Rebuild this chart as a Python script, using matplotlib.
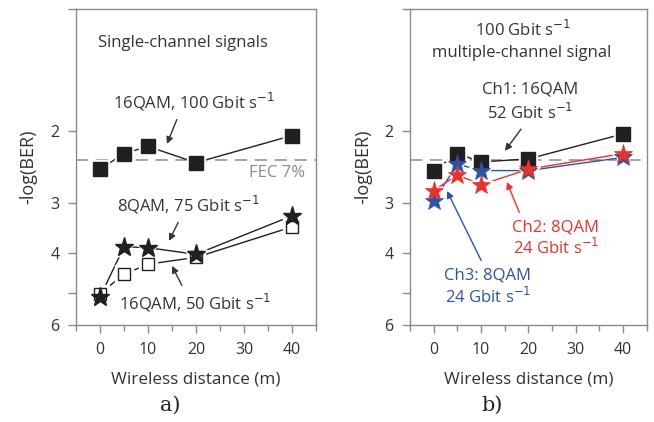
import matplotlib
matplotlib.use('Agg')
from matplotlib import pyplot as plt
from matplotlib.ticker import FixedLocator, NullFormatter, FixedFormatter

plt.rcParams['font.family'] = ['Open Sans', 'DejaVu Sans']

# wireless distance in metres
dist = [0, 5, 10, 20, 40]

# -log(BER), single-channel signals
qam16_100g = [2.48, 2.27, 2.18, 2.39, 2.05]
qam8_75g = [5.12, 3.85, 3.87, 4.02, 3.23]
qam16_50g = [5.02, 4.50, 4.25, 4.09, 3.44]

# -log(BER), multiple-channel signal
ch1 = [2.50, 2.27, 2.38, 2.34, 2.03]
ch2 = [2.80, 2.56, 2.71, 2.48, 2.27]
ch3 = [2.97, 2.41, 2.50, 2.50, 2.32]

fec_limit = 2.36

y_ticks = [1, 2, 3, 4, 5, 6]
y_labels = ['', '2', '3', '4', '', '6']
x_ticks = [0, 10, 20, 30, 40]

dark = '#231f20'
red = '#e8322b'
blue = '#2b53a6'
grey = '#8a8a8a'
text_c = '#333333'
note_fs = 12


def series(ax, y, marker, color, face, ms, mew=1.0):
    ax.plot(dist, y, '-', color=color, lw=1.0, zorder=2)
    # white halo so the line stops short of each marker
    ax.plot(dist, y, marker, ls='none', ms=ms + 4, mfc='white', mec='white', zorder=3)
    ax.plot(dist, y, marker, ls='none', ms=ms, mfc=face, mec=color, mew=mew, zorder=4)


def style_axes(ax):
    ax.set_yscale('log')
    ax.set_ylim(6, 1)
    ax.set_xlim(-5, 45)
    ax.yaxis.set_major_locator(FixedLocator(y_ticks))
    ax.yaxis.set_major_formatter(FixedFormatter(y_labels))
    ax.yaxis.set_minor_locator(FixedLocator([]))
    ax.yaxis.set_minor_formatter(NullFormatter())
    ax.xaxis.set_major_locator(FixedLocator(x_ticks))
    ax.xaxis.set_minor_locator(FixedLocator([-5, 5, 15, 25, 35, 45]))
    for s in ax.spines.values():
        s.set_color(grey)
        s.set_linewidth(1.0)
    ax.tick_params(which='major', direction='out', length=6, width=1.0, color=grey,
                   labelsize=11.5, labelcolor=text_c, pad=6)
    ax.tick_params(which='minor', direction='out', length=4, width=1.0, color=grey)
    ax.axhline(fec_limit, color=grey, lw=1.1, ls=(0, (8, 5)), zorder=1)
    ax.set_xlabel('Wireless distance (m)', fontsize=12.3, color=text_c, labelpad=10)
    ax.set_ylabel('-log(BER)', fontsize=13, color=text_c, labelpad=9)


def note(ax, text, pos, color=text_c, tip=None, relpos=(0.5, 0.5)):
    if tip is None:
        ax.text(*pos, text, transform=ax.transAxes, ha='center', va='center',
                fontsize=note_fs, color=color)
        return
    ax.annotate(text, xy=tip, xycoords='axes fraction', xytext=pos,
                textcoords='axes fraction', ha='center', va='center',
                fontsize=note_fs, color=color,
                arrowprops=dict(arrowstyle='-|>', color=color, lw=1.0,
                                mutation_scale=10, shrinkA=3, shrinkB=0,
                                relpos=relpos))


fig = plt.figure(figsize=(6.54, 4.22), dpi=100)
ax1 = fig.add_axes([0.1162, 0.2299, 0.3670, 0.7488])
ax2 = fig.add_axes([0.6270, 0.2299, 0.3620, 0.7488])

# a) single-channel signals
style_axes(ax1)
series(ax1, qam16_100g, 's', dark, dark, 9.5)
series(ax1, qam16_50g, 's', dark, 'white', 8.5)
series(ax1, qam8_75g, '*', dark, dark, 14)

note(ax1, 'Single-channel signals', (0.446, 0.892))
ax1.text(0.955, 0.481, 'FEC 7%', transform=ax1.transAxes, ha='right', va='center',
         fontsize=note_fs, color=grey)
note(ax1, r'16QAM, 100 Gbit s$^{-1}$', (0.492, 0.706), tip=(0.379, 0.573), relpos=(0.41, 0.0))
note(ax1, r'8QAM, 75 Gbit s$^{-1}$', (0.469, 0.380), tip=(0.3875, 0.266), relpos=(0.45, 0.0))
note(ax1, r'16QAM, 50 Gbit s$^{-1}$', (0.496, 0.0696), tip=(0.40, 0.187), relpos=(0.435, 1.0))

# b) multiple-channel signal
style_axes(ax2)
series(ax2, ch1, 's', dark, dark, 9.5)
series(ax2, ch3, '*', blue, blue, 14, mew=0.5)
series(ax2, ch2, '*', red, red, 14, mew=0.5)

note(ax2, r'100 Gbit s$^{-1}$', (0.4755, 0.9335))
note(ax2, 'multiple-channel signal', (0.4726, 0.861))
note(ax2, 'Ch1: 16QAM', (0.506, 0.744))
note(ax2, r'52 Gbit s$^{-1}$', (0.506, 0.671), tip=(0.401, 0.551), relpos=(0.45, 0.0))
note(ax2, 'Ch2: 8QAM', (0.616, 0.310), color=red, tip=(0.409, 0.4525), relpos=(0.11, 1.0))
note(ax2, r'24 Gbit s$^{-1}$', (0.616, 0.244), color=red)
note(ax2, 'Ch3: 8QAM', (0.325, 0.158), color=blue, tip=(0.156, 0.424), relpos=(0.47, 1.0))
note(ax2, r'24 Gbit s$^{-1}$', (0.33, 0.0886), color=blue)

fig.text(0.260, 0.040, 'a)', ha='center', va='center', fontsize=15, family='DejaVu Serif', color='#222222')
fig.text(0.752, 0.040, 'b)', ha='center', va='center', fontsize=15, family='DejaVu Serif', color='#222222')

fig.savefig('out.png', dpi=100)
